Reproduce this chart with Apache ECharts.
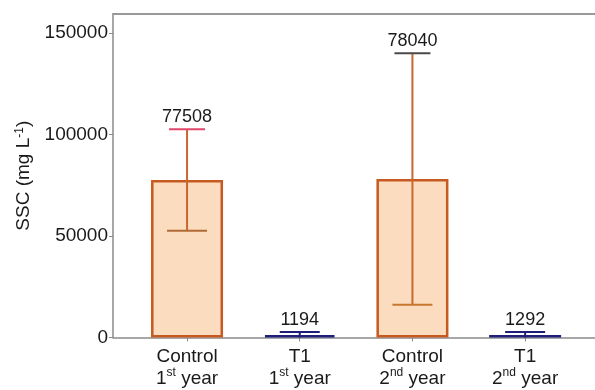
<!DOCTYPE html>
<html>
<head>
<meta charset="utf-8">
<script src="https://cdn.jsdelivr.net/npm/echarts@6/dist/echarts.min.js"></script>
<style>html,body{margin:0;padding:0;background:#fff}#c{width:595px;height:390px}</style>
</head>
<body>
<div id="c"></div>
<script>
// ---- data ----
var categories = ['Control', 'T1', 'Control', 'T1'];
var yearNum = ['1', '1', '2', '2'];
var yearSup = ['st', 'st', 'nd', 'nd'];
var means = [77508, 1194, 78040, 1292];
var errors = [25000, 1500, 61900, 1400];
var yTicks = [0, 50000, 100000, 150000];

// ---- styles ----
var FONT = '"Liberation Sans", Arial, sans-serif';
var barFill = ['#fcdcbe', '#1f1f7a', '#fcdcbe', '#1f1f7a'];
var barBorder = ['#c65a20', '#1f1f7a', '#c65a20', '#1f1f7a'];
var stemColor = ['#c8682e', '#1f1f7a', '#c8682e', '#1f1f7a'];
var topCapColor = ['#e0466a', '#1f1f7a', '#4a4a4a', '#1f1f7a'];
var botCapColor = ['#b06a36', '#1f1f7a', '#c8782e', '#1f1f7a'];
var capHalf = [18, 20, 18, 20];

var barData = means.map(function (v, i) {
  return { value: [i, v], itemStyle: { color: barFill[i], borderColor: barBorder[i], borderWidth: 2.5 } };
});
var errData = means.map(function (v, i) { return [i, v, errors[i]]; });

var chart = echarts.init(document.getElementById('c'), null, { renderer: 'canvas' });
chart.setOption({
  animation: false,
  grid: { left: 113, right: 0, top: 14, bottom: 51 },
  xAxis: [{
    type: 'value', min: -0.657, max: 3.62,
    axisLine: { show: true, onZero: false, lineStyle: { color: '#8a8a8a', width: 1.5 } },
    splitLine: { show: false },
    axisTick: { show: true, customValues: [0, 1, 2, 3], length: 4, lineStyle: { color: '#8a8a8a' } },
    axisLabel: {
      customValues: [0, 1, 2, 3], margin: 8,
      formatter: function (v) {
        var i = Math.round(v);
        return '{a|' + categories[i] + '}\n{a|' + yearNum[i] + '}{s|' + yearSup[i] + '}{a| year}';
      },
      rich: {
        a: { fontSize: 19, fontFamily: FONT, color: '#1a1a1a', lineHeight: 22 },
        s: { fontSize: 12, fontFamily: FONT, color: '#1a1a1a', lineHeight: 22, padding: [0, 0, 11, 0] }
      }
    }
  }, {
    type: 'value', position: 'top', min: -0.657, max: 3.62,
    axisLine: { show: true, onZero: false, lineStyle: { color: '#999', width: 2 } },
    axisTick: { show: false }, axisLabel: { show: false }, splitLine: { show: false }
  }],
  yAxis: {
    type: 'value', min: 0, max: 159300, interval: 50000,
    name: 'SSC (mg L{s|-1})', nameLocation: 'middle', nameGap: 78,
    nameTextStyle: {
      fontSize: 19, fontFamily: FONT, color: '#1a1a1a',
      rich: { s: { fontSize: 12, fontFamily: FONT, color: '#1a1a1a', padding: [0, 0, 9, 0] } }
    },
    axisLine: { show: true, onZero: false, lineStyle: { color: '#8a8a8a', width: 1.5 } },
    axisTick: { show: true, length: 4, lineStyle: { color: '#8a8a8a' } },
    splitLine: { show: false },
    axisLabel: {
      fontSize: 19, fontFamily: FONT, color: '#1a1a1a', margin: 5, showMaxLabel: false,
      formatter: function (v) { return String(v); }
    }
  },
  series: [{
    type: 'bar', barWidth: 72, data: barData, z: 2
  }, {
    type: 'custom', z: 3, data: errData,
    renderItem: function (params, api) {
      var i = params.dataIndex;
      var x = api.value(0), m = api.value(1), e = api.value(2);
      var pt = api.coord([x, m + e]);
      var pb = api.coord([x, Math.max(m - e, 0)]);
      var cx = pt[0], h = capHalf[i];
      var children = [
        { type: 'line', shape: { x1: cx, y1: pt[1], x2: cx, y2: pb[1] }, style: { stroke: stemColor[i], lineWidth: 2 } },
        { type: 'line', shape: { x1: cx - h, y1: pt[1], x2: cx + h, y2: pt[1] }, style: { stroke: topCapColor[i], lineWidth: 2 } },
        { type: 'text', x: cx, y: pt[1] - 3, style: { text: String(means[i]), fontSize: 18, fontFamily: FONT, fill: '#1a1a1a', align: 'center', verticalAlign: 'bottom' } }
      ];
      if (m - e > 0) {
        children.push({ type: 'line', shape: { x1: cx - h - 2, y1: pb[1], x2: cx + h + 2, y2: pb[1] }, style: { stroke: botCapColor[i], lineWidth: 2 } });
      }
      return { type: 'group', children: children };
    }
  }]
});
</script>
</body>
</html>
